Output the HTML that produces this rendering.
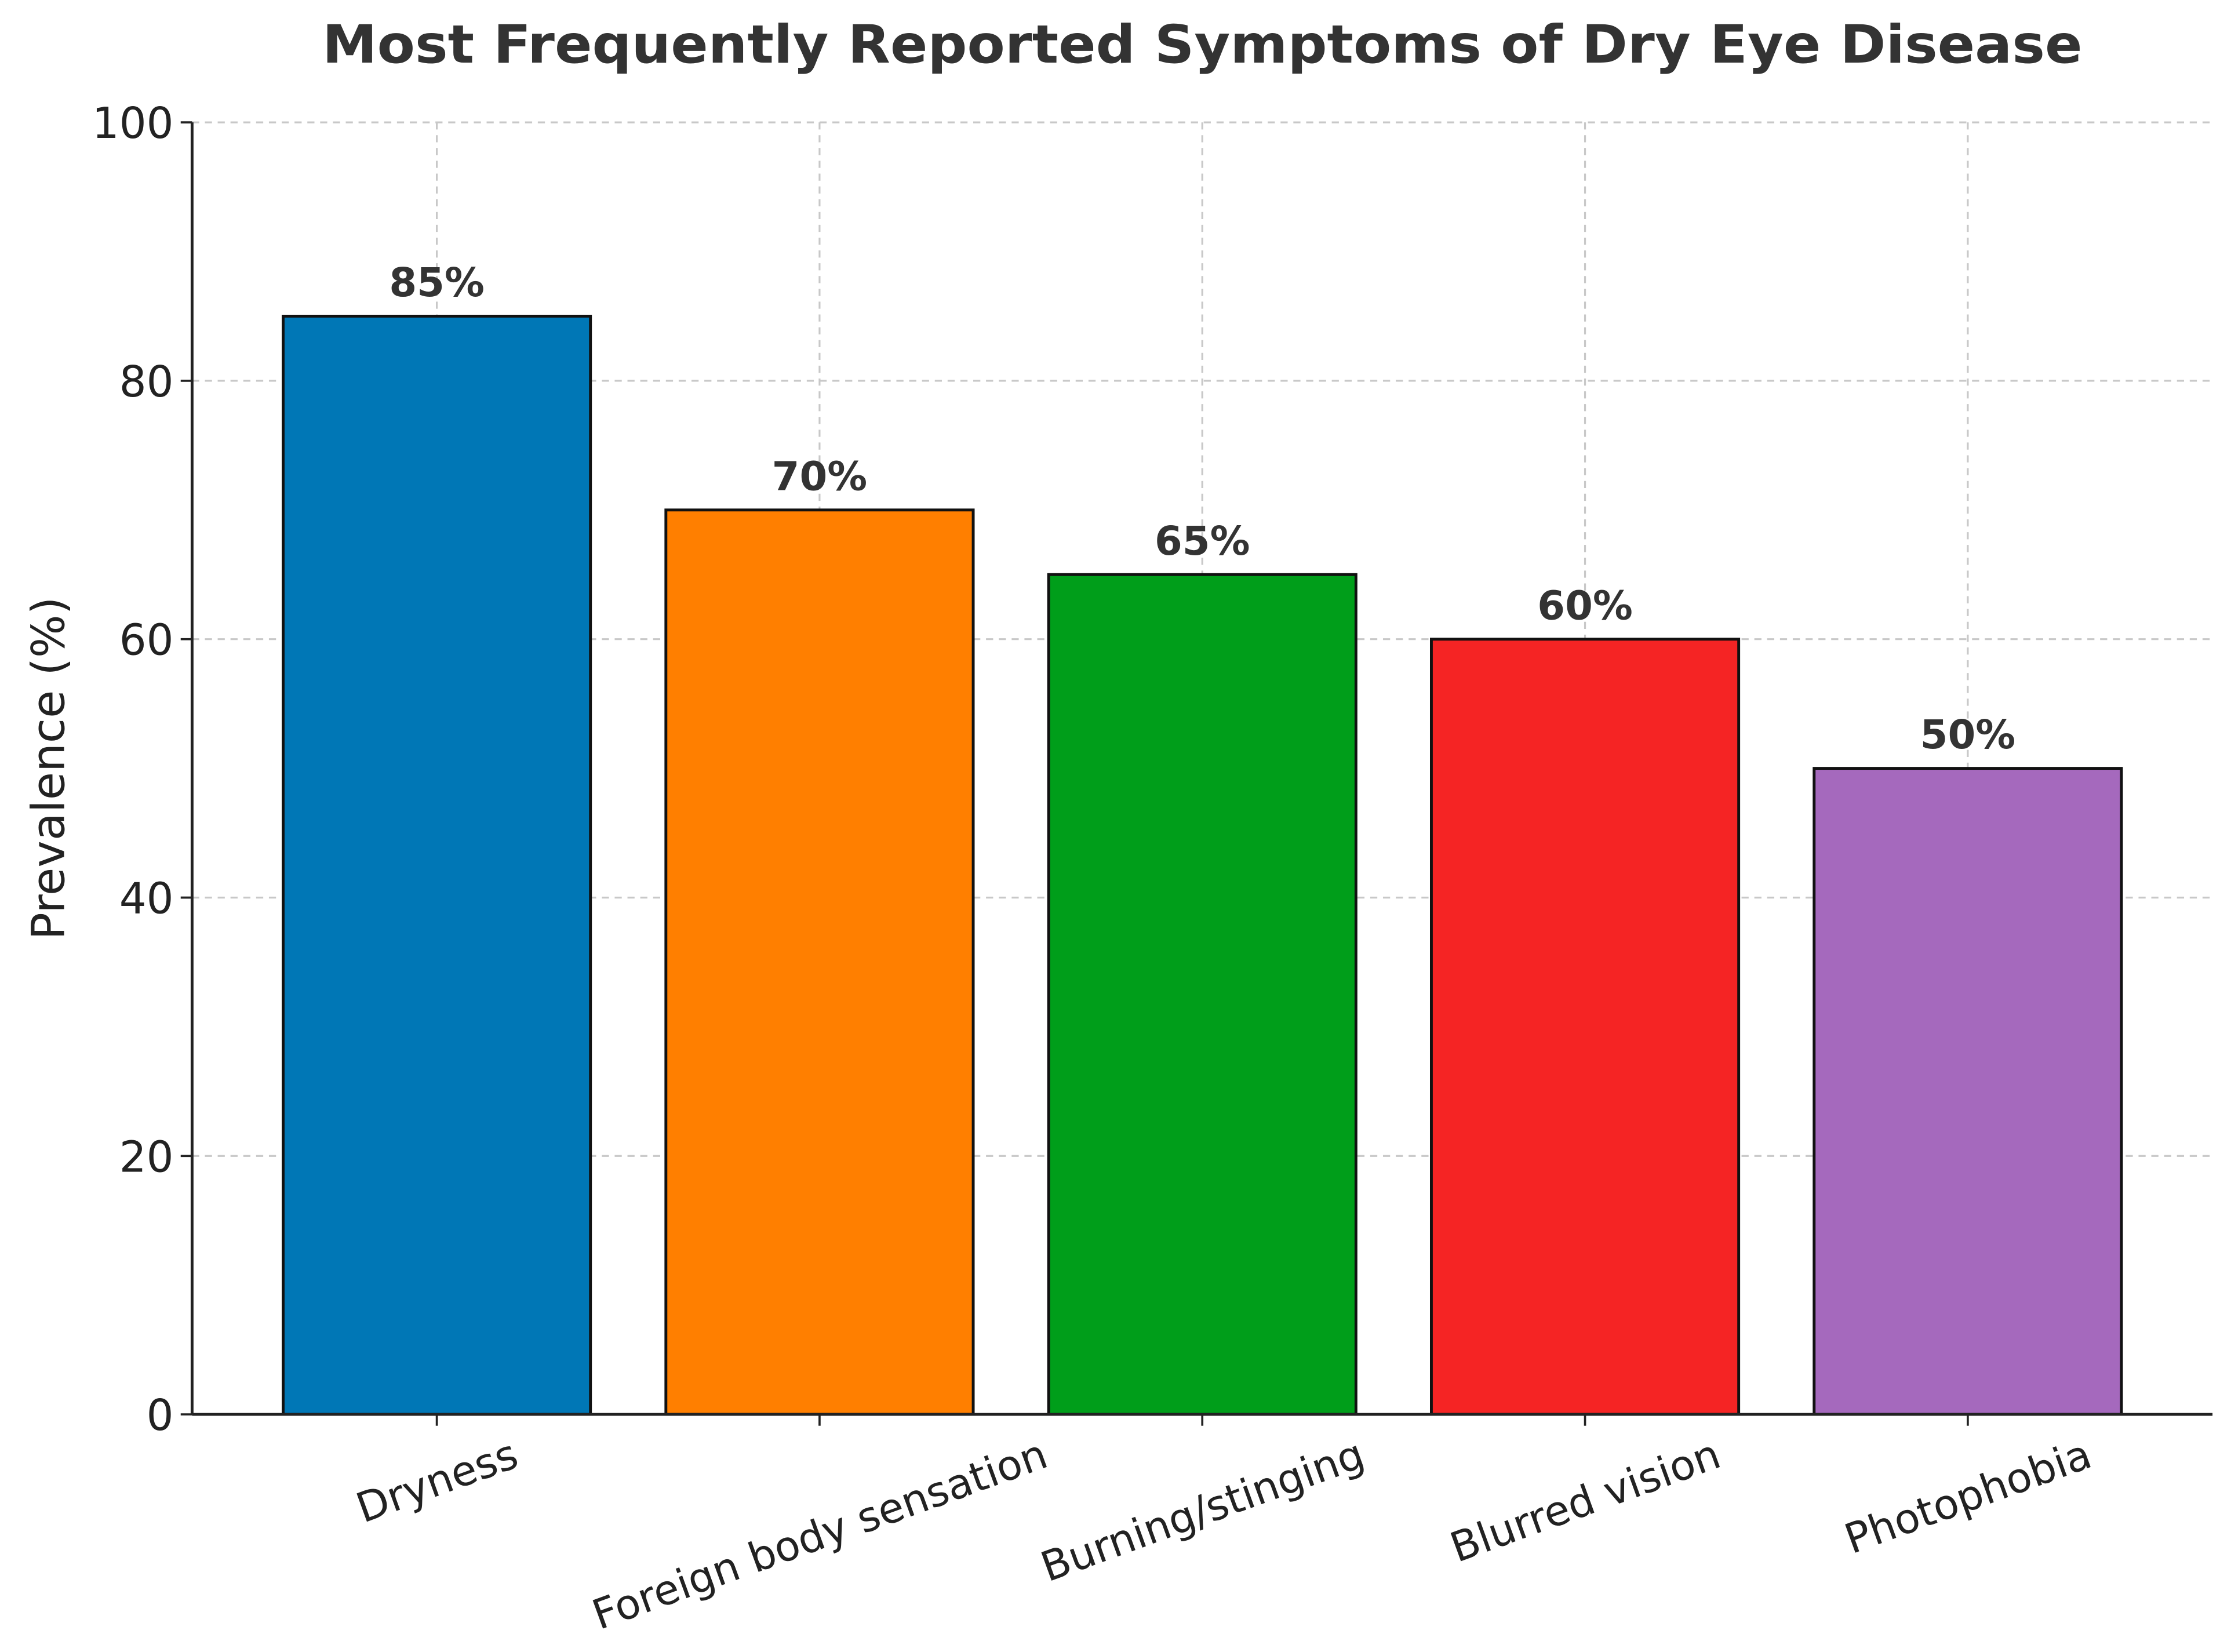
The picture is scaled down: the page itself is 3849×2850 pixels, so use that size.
<!DOCTYPE html>
<html><head><meta charset="utf-8"><style>
html,body{margin:0;padding:0;background:#fff;}
svg{display:block;}
text{font-family:"DejaVu Sans","Liberation Sans",sans-serif;}
</style></head><body>
<svg id="chart" width="3849" height="2850" viewBox="0 0 1568 1161" preserveAspectRatio="none" xmlns="http://www.w3.org/2000/svg">
<rect width="1568" height="1161" fill="#fff"/>
<text x="845" y="44" text-anchor="middle" font-size="37" font-weight="bold" fill="#333" textLength="1237" lengthAdjust="spacingAndGlyphs">Most Frequently Reported Symptoms of Dry Eye Disease</text>
<text transform="translate(45,540) rotate(-90)" text-anchor="middle" font-size="32" fill="#222">Prevalence (%)</text>
<g id="grid"></g><g id="bars"></g><g id="axes"></g>
</svg>
<script>
const categories = ["Dryness","Foreign body sensation","Burning/stinging","Blurred vision","Photophobia"];
const values = [85,70,65,60,50];
const valueLabels = ["85%","70%","65%","60%","50%"];
const colors = ["#0077b6","#ff7f00","#009e1a","#f52424","#a569bd"];
const yTicks = [0,20,40,60,80,100];

const L=135,R=1555,T=86,B=994;
function x(i){return 307+i*269;}
function y(v){return B-(v/100)*(B-T);}
const NS="http://www.w3.org/2000/svg";
function mk(tag,attrs,parent){const e=document.createElementNS(NS,tag);for(const k in attrs)e.setAttribute(k,attrs[k]);parent.appendChild(e);return e;}
const grid=document.getElementById('grid'),bars=document.getElementById('bars'),axes=document.getElementById('axes');
yTicks.forEach(t=>{
  const g=mk('line',{x1:L,x2:R,y1:y(t),y2:y(t),stroke:'#c8c8c8','stroke-width':1.3,'stroke-dasharray':'5,4'},grid);
  
  
  const tk=mk('line',{x1:L-8,x2:L,y1:y(t),y2:y(t),stroke:'#222','stroke-width':1.5},axes);
  
  
  const lb=mk('text',{x:L-13,y:y(t)+11,'text-anchor':'end','font-size':30,fill:'#222'},axes);
  lb.textContent=t;
  
  
});
const FS=29, rad=20*Math.PI/180;
categories.forEach((c,i)=>{
  const gl=mk('line',{x1:x(i),x2:x(i),y1:T,y2:B,stroke:'#c8c8c8','stroke-width':1.3,'stroke-dasharray':'5,4'},grid);
  
  
  const w=216;
  const r=mk('rect',{x:x(i)-w/2,y:y(values[i]),width:w,height:B-y(values[i]),fill:colors[i],stroke:'#111','stroke-width':2},bars);
  
  
  const vl=mk('text',{x:x(i),y:y(values[i])-14,'text-anchor':'middle','font-size':28,'font-weight':'bold',fill:'#333'},bars);
  vl.textContent=valueLabels[i];
  
  
  const tk=mk('line',{x1:x(i),x2:x(i),y1:B,y2:B+8,stroke:'#222','stroke-width':1.5},axes);
  
  
  const xl=mk('text',{'text-anchor':'middle','font-size':FS,fill:'#222'},axes);
  xl.textContent=c;
  
  
  const len=xl.getComputedTextLength();
  const h=FS*1.05;
  const bh=len*Math.sin(rad)+h*Math.cos(rad);
  const cy=B+12+bh/2;
  xl.setAttribute('transform',`translate(${x(i)},${cy}) rotate(-20) translate(0,${FS*0.36})`);
});
const ax1=mk('line',{x1:L,x2:L,y1:T,y2:B,stroke:'#222','stroke-width':2},axes);


const ax2=mk('line',{x1:L,x2:R,y1:B,y2:B,stroke:'#222','stroke-width':2},axes);


</script>
</body></html>
